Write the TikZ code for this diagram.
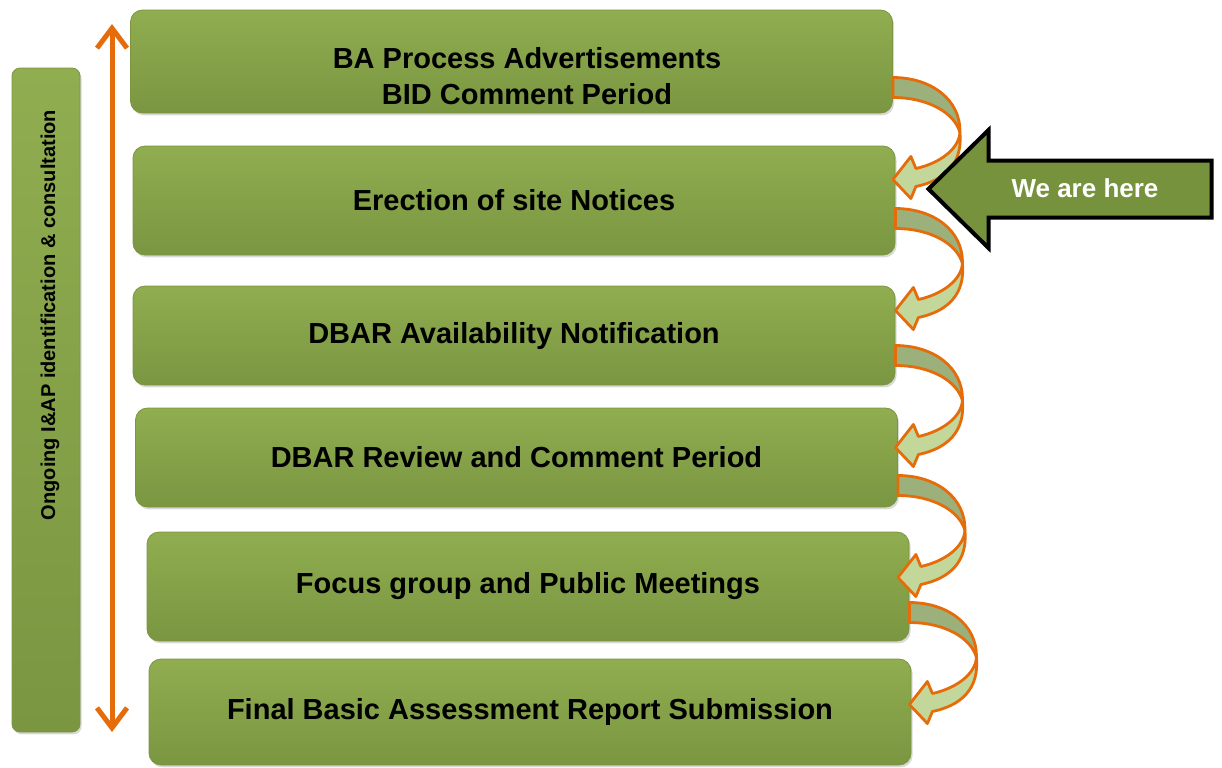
\documentclass[tikz,border=0pt]{standalone}
\usepackage{fontspec}
\setmainfont{Liberation Sans}
\usepackage{xcolor}
\usetikzlibrary{arrows.meta,shapes.arrows,shadows}

\definecolor{boxhi}{HTML}{90AD50}
\definecolor{boxmid}{HTML}{829F46}
\definecolor{boxlo}{HTML}{7A9641}
\definecolor{bendline}{HTML}{E46C0A}
\definecolor{bendback}{HTML}{9CB07C}
\definecolor{bendfront}{HTML}{C4D79B}
\definecolor{heregreen}{HTML}{76923C}

\tikzset{
	stage/.style={rounded corners=6pt, top color=boxhi, middle color=boxmid, bottom color=boxlo,
		draw=boxlo, line width=0.4pt, minimum width=381pt,
		drop shadow={shadow xshift=0.8pt, shadow yshift=-1.2pt, opacity=0.3},
		font=\fontsize{14.5}{18}\selectfont\bfseries, align=center, text=black},
	bendpart/.style={draw=bendline, line width=1.4pt, line join=round},
	bend/.pic={
		\filldraw[bendpart, fill=bendback] (0,0) .. controls (38,0) and (68,22) .. (67,55)
			.. controls (62,36) and (36,20) .. (0,20) -- cycle;
		\filldraw[bendpart, fill=bendfront] (67,55) .. controls (66,72) and (46,86) .. (23,91)
			-- (18,79) -- (0,102) -- (18,121) -- (23,109)
			.. controls (52,103) and (70,86) .. (67,55) -- cycle;
	}
}

\begin{document}
\begin{tikzpicture}[x=0.5pt,y=-0.5pt]
	\useasboundingbox (0,0) rectangle (1222,767);

	\node[stage, minimum width=34pt, minimum height=332pt, rounded corners=4pt] (ongoing) at (46,400) {};
	\node[rotate=90, font=\fontsize{10}{12}\selectfont\bfseries] (ongoingtext) at (50,315) {Ongoing I\&AP identification \& consultation};

	\coordinate (up) at (112,24);
	\coordinate (dn) at (112,732);
	\draw[bendline, line width=2.5pt, {Straight Barb[length=10pt,width=15pt]}-{Straight Barb[length=10pt,width=15pt]}] (up) -- (dn);

	\node[stage, minimum height=51.5pt] (b1) at (511.5,61.5) {};
	\node[font=\fontsize{14.5}{18}\selectfont\bfseries, align=center] (t1) at (527,76) {BA Process Advertisements\\BID Comment Period};
	\node[stage, minimum height=54.5pt] (b2) at (514,200.5) {Erection of site Notices};
	\node[stage, minimum height=49.5pt] (b3) at (514,335.5) {DBAR Availability Notification};
	\node[stage, minimum height=49.5pt] (b4) at (516.5,457.5) {DBAR Review and Comment Period};
	\node[stage, minimum height=54.5pt] (b5) at (528,586.5) {Focus group and Public Meetings};
	\node[stage, minimum height=53pt] (b6) at (530,712) {Final Basic Assessment Report Submission};

	\pic at ([yshift=-8pt]b1.east) {bend};
	\pic at ([yshift=-4pt]b2.east) {bend};
	\pic at ([yshift=-5pt]b3.east) {bend};
	\pic at ([yshift=-9pt]b4.east) {bend};
	\pic at ([yshift=-8pt]b5.east) {bend};

	\node[single arrow, shape border rotate=180, fill=heregreen, draw=black, line width=2pt,
		minimum height=141.5pt, inner sep=0pt, text width=1pt, text height=13.25pt, text depth=13.25pt,
		single arrow head extend=15.25pt, single arrow tip angle=89] (here) at (1084.5,189) {};
	\node[text=white, font=\fontsize{13}{15}\selectfont\bfseries] (heretext) at (1085,188) {We are here};
\end{tikzpicture}
\end{document}
